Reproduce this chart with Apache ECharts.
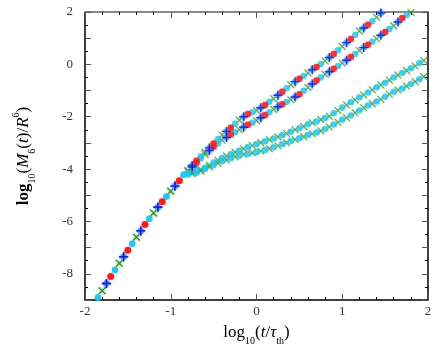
<!DOCTYPE html>
<html><head><meta charset="utf-8">
<script src="https://cdn.jsdelivr.net/npm/echarts@6/dist/echarts.min.js"></script>
<style>html,body{margin:0;padding:0;background:#fff}#c{width:436px;height:359px}</style>
</head><body><div id="c"></div>
<script>
// shared early part of all curves
const commonX = [-1.85,-1.8,-1.75,-1.7,-1.65,-1.6,-1.55,-1.5,-1.45,-1.4,-1.35,-1.3,-1.25,-1.2,-1.15,-1.1,-1.05,-1.0,-0.95,-0.9,-0.85];
const commonY = [-8.90,-8.65,-8.37,-8.10,-7.85,-7.60,-7.35,-7.10,-6.85,-6.60,-6.36,-6.12,-5.90,-5.68,-5.46,-5.25,-5.05,-4.85,-4.65,-4.45,-4.22];
// branch part
const branchX = [-0.8,-0.75,-0.7,-0.65,-0.6,-0.55,-0.5,-0.45,-0.4,-0.35,-0.3,-0.25,-0.2,-0.15,-0.1,-0.05,0,0.05,0.1,0.15,0.2,0.25,0.3,0.35,0.4,0.45,0.5,0.55,0.6,0.65,0.7,0.75,0.8,0.85,0.9,0.95,1,1.05,1.1,1.15,1.2,1.25,1.3,1.35,1.4,1.45,1.5,1.55,1.6,1.65,1.7,1.75,1.8,1.85,1.9,1.95];
const curve1Y = [-4.05,-3.86,-3.68,-3.52,-3.36,-3.19,-3.02,-2.86,-2.70,-2.56,-2.42,-2.27,-2.13,-2.00,-1.90,-1.83,-1.76,-1.66,-1.55,-1.43,-1.31,-1.18,-1.05,-0.91,-0.78,-0.66,-0.55,-0.44,-0.33,-0.21,-0.10,0.01,0.13,0.26,0.40,0.54,0.68,0.83,0.97,1.12,1.27,1.39,1.51,1.65,1.80,1.96];
const curve2Y = [-4.08,-3.92,-3.76,-3.60,-3.44,-3.29,-3.15,-3.02,-2.90,-2.79,-2.68,-2.59,-2.50,-2.40,-2.31,-2.23,-2.15,-2.04,-1.93,-1.83,-1.72,-1.62,-1.52,-1.44,-1.35,-1.25,-1.14,-1.01,-0.88,-0.75,-0.62,-0.50,-0.38,-0.28,-0.17,-0.06,0.05,0.16,0.28,0.40,0.53,0.64,0.75,0.86,0.98,1.11,1.24,1.35,1.47,1.62,1.77,1.88,1.98];
const curve3Y = [-4.16,-4.12,-4.08,-4.02,-3.95,-3.85,-3.75,-3.66,-3.58,-3.50,-3.43,-3.36,-3.30,-3.23,-3.16,-3.10,-3.04,-2.99,-2.94,-2.88,-2.83,-2.77,-2.71,-2.64,-2.57,-2.50,-2.44,-2.37,-2.29,-2.23,-2.18,-2.11,-2.05,-1.98,-1.87,-1.76,-1.65,-1.55,-1.45,-1.36,-1.26,-1.17,-1.07,-0.97,-0.87,-0.79,-0.70,-0.60,-0.50,-0.41,-0.33,-0.24,-0.15,-0.06,0.05,0.15];
const curve4Y = [-4.20,-4.18,-4.14,-4.07,-4.00,-3.92,-3.85,-3.77,-3.70,-3.65,-3.59,-3.53,-3.48,-3.44,-3.41,-3.38,-3.35,-3.31,-3.27,-3.22,-3.17,-3.11,-3.05,-2.99,-2.93,-2.87,-2.82,-2.76,-2.70,-2.65,-2.60,-2.54,-2.47,-2.39,-2.30,-2.21,-2.12,-2.04,-1.95,-1.85,-1.76,-1.66,-1.57,-1.50,-1.42,-1.33,-1.24,-1.14,-1.05,-0.98,-0.92,-0.83,-0.75,-0.66,-0.57,-0.47];
const xTicks = [-2,-1,0,1,2];
const yTicks = [-8,-6,-4,-2,0,2];

const FONT = '"Liberation Serif","DejaVu Serif",serif';
function pick(xs, ys, start, step) {
  const out = [];
  const n = Math.min(xs.length, ys.length);
  for (let i = start; i < n; i += step) out.push([xs[i], ys[i]]);
  return out;
}
const fullX = commonX.concat(branchX);
const c1 = commonY.concat(curve1Y);
const c2 = commonY.concat(curve2Y);

const PLUS = 'path://M4.2,0H5.8V4.2H10V5.8H5.8V10H4.2V5.8H0V4.2H4.2Z';
const XMARK = 'path://M4.4,0H5.6V4.4H10V5.6H5.6V10H4.4V5.6H0V4.4H4.4Z';

function green(data){return {type:'scatter',data,symbol:XMARK,symbolRotate:45,symbolSize:9.5,
  itemStyle:{color:'rgba(30,130,30,0.85)',shadowColor:'rgba(120,200,120,0.9)',shadowBlur:3},z:2};}
function cyan(data){return {type:'scatter',data,symbol:'circle',symbolSize:6.5,itemStyle:{color:'#1ec4ef'},z:3};}
function red(data){return {type:'scatter',data,symbol:'circle',symbolSize:6.5,itemStyle:{color:'#f01515',shadowColor:'rgba(255,80,80,0.6)',shadowBlur:2},z:4};}
function blue(data){return {type:'scatter',data,symbol:PLUS,symbolSize:9,itemStyle:{color:'#1010c0',shadowColor:'rgba(140,120,255,0.8)',shadowBlur:2},z:5};}

const series = [
  green(pick(fullX,c1,1,4)), green(pick(fullX,c2,1,4)),
  green(pick(branchX,curve3Y,1,2)), green(pick(branchX,curve4Y,1,2)),
  cyan(pick(fullX,c1,0,2)), cyan(pick(fullX,c2,0,2)),
  cyan(pick(branchX,curve3Y,0,2)), cyan(pick(branchX,curve4Y,0,2)),
  red(pick(fullX,c1,3,4)), red(pick(fullX,c2,3,4)),
  blue(pick(fullX,c1,2,4)), blue(pick(fullX,c2,2,4))
];

const tickStyle = {color:'#555', width:1};
function xAx(pos, labels){return {type:'value',min:xTicks[0],max:xTicks[xTicks.length-1],interval:1,position:pos,
  axisLine:{show:true,onZero:false,lineStyle:{color:pos==='top'?'#888':'#000',width:pos==='top'?2:1.5}},
  axisTick:{show:true,inside:true,length:6,lineStyle:tickStyle},
  minorTick:{show:true,splitNumber:5,length:3,lineStyle:{color:'#000'}},
  splitLine:{show:false},
  axisLabel:{show:labels,margin:5,fontFamily:FONT,fontSize:13,color:'#333'}};}
function yAx(pos, labels){return {type:'value',min:-9,max:yTicks[yTicks.length-1],interval:1,position:pos,
  axisLine:{show:true,onZero:false,lineStyle:{color:'#000',width:1.5}},
  axisTick:{show:true,inside:true,length:6,lineStyle:tickStyle},
  minorTick:{show:true,splitNumber:2,length:3,lineStyle:{color:'#000'}},
  splitLine:{show:false},
  axisLabel:{show:labels,margin:12,fontFamily:FONT,fontSize:13,color:'#333',
    formatter:v=>yTicks.indexOf(v)>=0?String(v):''}};}

const xa = xAx('bottom', true);
xa.name = '{n|log}{s|10}{n|(}{i|t}{n|/}{i|τ}{s|th}{n|)}';
xa.nameLocation = 'middle';
xa.nameGap = 20;
xa.nameTextStyle = {rich:{
  n:{fontFamily:FONT,fontSize:17,color:'#000',lineHeight:26},
  i:{fontFamily:FONT,fontSize:17,fontStyle:'italic',color:'#000',lineHeight:26},
  s:{fontFamily:FONT,fontSize:10,color:'#000',lineHeight:10,verticalAlign:'bottom'}}};
const ya = yAx('left', true);
ya.name = '{b|log}{s|10}{n|(}{i|M}{s|6}{n|(}{i|t}{n|)/}{i|R}{p|6}{n|)}';
ya.nameLocation = 'middle';
ya.nameGap = 48;
ya.nameRotate = 90;
ya.nameTextStyle = {rich:{
  b:{fontFamily:FONT,fontSize:17,fontWeight:'bold',color:'#000',lineHeight:26},
  n:{fontFamily:FONT,fontSize:17,color:'#000',lineHeight:26},
  i:{fontFamily:FONT,fontSize:17,fontStyle:'italic',color:'#000',lineHeight:26},
  s:{fontFamily:FONT,fontSize:10,color:'#000',lineHeight:10,verticalAlign:'bottom'},
  p:{fontFamily:FONT,fontSize:10,color:'#000',lineHeight:10,verticalAlign:'top'}}};

const chart = echarts.init(document.getElementById('c'));
chart.setOption({
  animation:false,
  backgroundColor:'#fff',
  grid:{left:85,right:8,top:12,bottom:59},
  xAxis:[xa, xAx('top', false)],
  yAxis:[ya, yAx('right', false)],
  series: series.map(s=>Object.assign(s,{xAxisIndex:0,yAxisIndex:0}))
});
</script></body></html>
